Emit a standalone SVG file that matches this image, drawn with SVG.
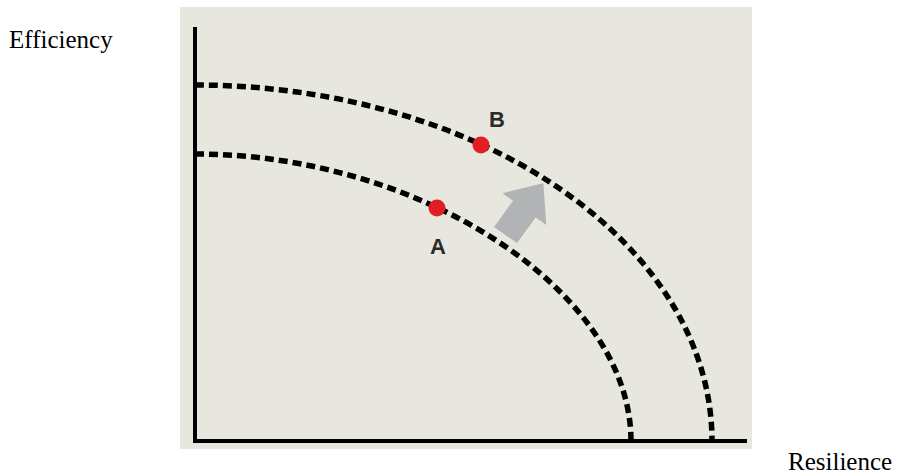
<svg xmlns="http://www.w3.org/2000/svg" width="898" height="475" viewBox="0 0 898 475">
<style>
.lbl{font-family:"Liberation Serif","Times New Roman",serif;font-size:25px;fill:#000}
.pt{font-family:"Liberation Sans",Arial,sans-serif;font-size:22px;font-weight:bold;fill:#2b2b2b;text-anchor:middle}
.curve{fill:none;stroke:#000;stroke-width:5.5;stroke-dasharray:9 5}
.axis{fill:none;stroke:#000;stroke-width:4}
.dot{fill:#e01e24}
</style>
<rect width="898" height="475" fill="#fff"/>
<rect id="panel" x="180" y="7" width="572" height="442" fill="#e8e7df"/>
<g id="curves">
<path id="curve-outer" class="curve" d="M195,85 A517,356 0 0 1 712,441"/>
<path id="curve-inner" class="curve" d="M195,154 C421.7,154 631,291.8 631,441"/>
</g>
<g id="axes">
<path class="axis" d="M195,27 V441 H747"/>
</g>
<g id="arrow">
<polygon points="543.3,183.2 546.3,225 535.7,217.4 517,243 494,227 513.1,200.8 502.5,193.2" fill="#b1b3b4"/>
</g>
<g id="pointB">
<circle class="dot" cx="481" cy="145" r="8.5"/>
<text class="pt" x="497" y="127">B</text>
</g>
<g id="pointA">
<circle class="dot" cx="437" cy="208" r="8.5"/>
<text class="pt" x="438" y="254">A</text>
</g>
<text class="lbl" x="9" y="48">Efficiency</text>
<text class="lbl" x="788" y="470">Resilience</text>
</svg>
